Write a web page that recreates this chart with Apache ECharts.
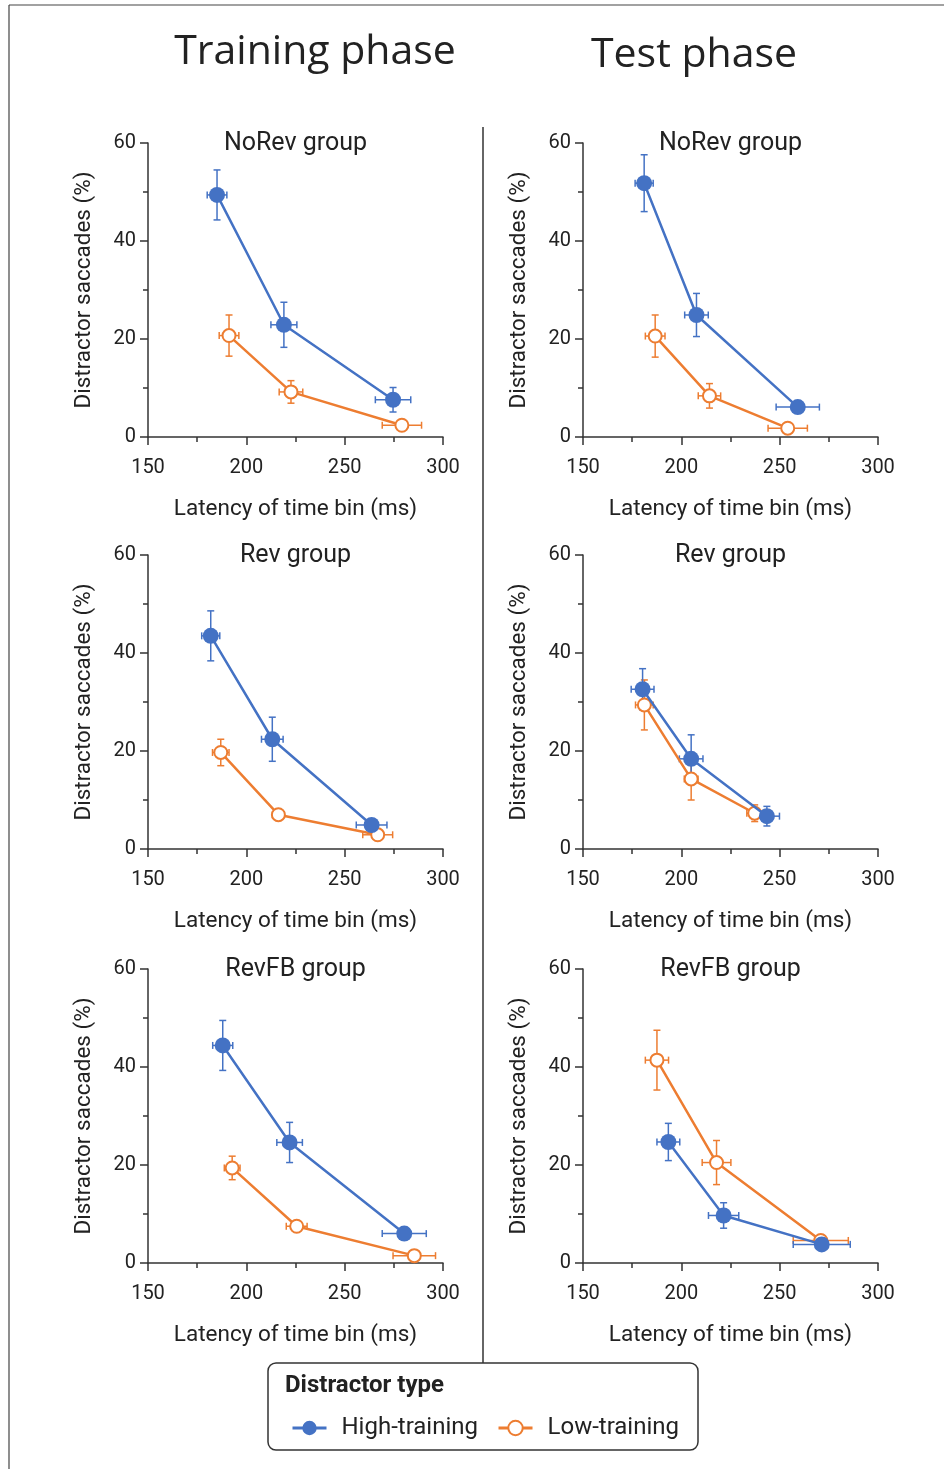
<!DOCTYPE html>
<html>
<head>
<meta charset="utf-8">
<script src="https://cdn.jsdelivr.net/npm/echarts@6/dist/echarts.min.js"></script>
<style>
  html, body { margin: 0; padding: 0; background: #fff; }
  #chart { width: 944px; height: 1469px; }
</style>
</head>
<body>
<div id="chart"></div>
<script>
// each point: [latency ms, distractor saccades %, latency error, saccade error]
const trainNoRevHigh = [[185.1, 49.4, 5, 5.1], [219.1, 22.9, 6.6, 4.6], [274.6, 7.6, 9, 2.5]];
const trainNoRevLow  = [[191.2, 20.7, 5, 4.2], [222.7, 9.2, 6, 2.3], [279.1, 2.4, 10, 0.5]];
const testNoRevHigh  = [[181.1, 51.8, 4.6, 5.8], [207.7, 24.9, 6, 4.4], [259.2, 6.1, 11, 1.0]];
const testNoRevLow   = [[186.7, 20.6, 5, 4.3], [214.3, 8.4, 5.7, 2.5], [254.1, 1.8, 10, 0.5]];
const trainRevHigh   = [[181.9, 43.5, 4.6, 5.1], [213.2, 22.4, 5.5, 4.5], [263.7, 4.9, 7.8, 1.0]];
const trainRevLow    = [[187.0, 19.7, 4.2, 2.7], [216.3, 7.0, 3, 1.0], [266.8, 2.9, 7.6, 0.6]];
const testRevHigh    = [[180.3, 32.6, 5.8, 4.2], [205.0, 18.4, 6, 4.9], [243.5, 6.7, 6.4, 2.0]];
const testRevLow     = [[181.2, 29.4, 4.5, 5.1], [205.0, 14.3, 3.5, 4.3], [237.3, 7.3, 4, 1.7]];
const trainFBHigh    = [[188.0, 44.4, 5.1, 5.1], [222.0, 24.6, 6.5, 4.1], [280.3, 6.0, 11.2, 1.2]];
const trainFBLow     = [[192.8, 19.4, 4, 2.4], [225.6, 7.5, 5.3, 0.7], [285.4, 1.5, 10.8, 0.5]];
const testFBHigh     = [[193.4, 24.7, 5.8, 3.8], [221.5, 9.7, 7.7, 2.6], [271.4, 3.8, 14.5, 0.5]];
const testFBLow      = [[187.6, 41.4, 5.9, 6.1], [217.9, 20.5, 7.3, 4.5], [270.9, 4.6, 14, 1.0]];

const groupNames = ['NoRev group', 'Rev group', 'RevFB group'];
const phaseNames = ['Training phase', 'Test phase'];
const typeNames = ['High-training', 'Low-training'];
const xTicks = [150, 300, 50];   // min, max, labelled step
const yTicks = [0, 60, 20];

const hiColor = '#4472C4';
const loColor = '#ED7D31';
const axisColor = '#333';
const font = 'Roboto, "Noto Sans", sans-serif';

const panels = [
  { group: 0, high: trainNoRevHigh, low: trainNoRevLow, left: 148, top: 143 },
  { group: 0, high: testNoRevHigh,  low: testNoRevLow,  left: 583, top: 143 },
  { group: 1, high: trainRevHigh,   low: trainRevLow,   left: 148, top: 555 },
  { group: 1, high: testRevHigh,    low: testRevLow,    left: 583, top: 555 },
  { group: 2, high: trainFBHigh,    low: trainFBLow,    left: 148, top: 969 },
  { group: 2, high: testFBHigh,     low: testFBLow,     left: 583, top: 969 }
];
const gw = 295, gh = 294;

function errorBars(color) {
  return function (params, api) {
    const x = api.value(0), y = api.value(1), ex = api.value(2), ey = api.value(3);
    const t = api.coord([x, y + ey]), b = api.coord([x, y - ey]);
    const l = api.coord([x - ex, y]), r = api.coord([x + ex, y]);
    const cap = 3.5;
    const style = { stroke: color, lineWidth: 1.5 };
    const seg = (x1, y1, x2, y2) => ({ type: 'line', shape: { x1, y1, x2, y2 }, style });
    return {
      type: 'group',
      children: [
        seg(t[0], t[1], b[0], b[1]),
        seg(t[0] - cap, t[1], t[0] + cap, t[1]),
        seg(b[0] - cap, b[1], b[0] + cap, b[1]),
        seg(l[0], l[1], r[0], r[1]),
        seg(l[0], l[1] - cap, l[0], l[1] + cap),
        seg(r[0], r[1] - cap, r[0], r[1] + cap)
      ]
    };
  };
}

function points(d) { return d.map(v => [v[0], v[1]]); }

const grid = [], xAxis = [], yAxis = [], series = [], graphic = [];

panels.forEach((p, i) => {
  grid.push({ left: p.left, top: p.top, width: gw, height: gh });
  xAxis.push({
    type: 'value', gridIndex: i, min: xTicks[0], max: xTicks[1], interval: xTicks[2],
    name: 'Latency of time bin (ms)', nameLocation: 'middle', nameGap: 61,
    nameTextStyle: { fontFamily: font, fontSize: 22.5, color: '#222' },
    axisLine: { show: true, lineStyle: { color: axisColor, width: 1.5 } },
    axisTick: { show: true, length: 8, lineStyle: { color: axisColor, width: 1.5 } },
    minorTick: { show: true, splitNumber: 2, length: 5, lineStyle: { color: axisColor, width: 1.5 } },
    axisLabel: { fontFamily: font, fontSize: 20, color: '#222', margin: 21 },
    splitLine: { show: false }
  });
  yAxis.push({
    type: 'value', gridIndex: i, min: yTicks[0], max: yTicks[1], interval: yTicks[2],
    name: 'Distractor saccades (%)', nameLocation: 'middle', nameGap: 52,
    nameTextStyle: { fontFamily: font, fontSize: 22.5, color: '#222' },
    axisLine: { show: true, lineStyle: { color: axisColor, width: 1.5 } },
    axisTick: { show: true, length: 8, lineStyle: { color: axisColor, width: 1.5 } },
    minorTick: { show: true, splitNumber: 2, length: 5, lineStyle: { color: axisColor, width: 1.5 } },
    axisLabel: { fontFamily: font, fontSize: 20, color: '#222', margin: 12 },
    splitLine: { show: false }
  });

  [[p.low, loColor], [p.high, hiColor]].forEach(([d, color]) => {
    series.push({
      type: 'custom', xAxisIndex: i, yAxisIndex: i, z: 2,
      renderItem: errorBars(color), encode: { x: 0, y: 1 }, data: d, silent: true
    });
  });
  series.push({
    type: 'line', name: typeNames[1], xAxisIndex: i, yAxisIndex: i, z: 3,
    data: points(p.low), symbol: 'emptyCircle', symbolSize: 13,
    itemStyle: { color: loColor, borderWidth: 2.5 },
    lineStyle: { color: loColor, width: 2.5 }
  });
  series.push({
    type: 'line', name: typeNames[0], xAxisIndex: i, yAxisIndex: i, z: 4,
    data: points(p.high), symbol: 'circle', symbolSize: 16,
    itemStyle: { color: hiColor },
    lineStyle: { color: hiColor, width: 2.5 }
  });

  graphic.push({
    type: 'text', x: p.left + gw / 2, y: p.top + 1,
    style: { text: groupNames[p.group], font: '25px ' + font, fill: '#222', textAlign: 'center', textVerticalAlign: 'middle' }
  });
});

// phase headings, frame, divider, legend box
graphic.push(
  { type: 'text', x: 315, y: 52, style: { text: phaseNames[0], font: '41px "Open Sans", sans-serif', fill: '#222', textAlign: 'center', textVerticalAlign: 'middle' } },
  { type: 'text', x: 694, y: 55, style: { text: phaseNames[1], font: '41px "Open Sans", sans-serif', fill: '#222', textAlign: 'center', textVerticalAlign: 'middle' } },
  { type: 'line', shape: { x1: 9, y1: 5, x2: 944, y2: 5 }, style: { stroke: '#444', lineWidth: 1.2 } },
  { type: 'line', shape: { x1: 9, y1: 5, x2: 9, y2: 1469 }, style: { stroke: '#444', lineWidth: 1.2 } },
  { type: 'line', shape: { x1: 483, y1: 127, x2: 483, y2: 1363 }, style: { stroke: '#333', lineWidth: 1.5 } },
  { type: 'rect', shape: { x: 268, y: 1363, width: 430, height: 87, r: 8 }, style: { fill: '#fff', stroke: '#333', lineWidth: 1.5 }, z: 0 },
  { type: 'text', x: 285, y: 1386, style: { text: 'Distractor type', font: 'bold 24px ' + font, fill: '#222', textVerticalAlign: 'middle' } }
);

const chart = echarts.init(document.getElementById('chart'));
chart.setOption({
  animation: false,
  grid, xAxis, yAxis, series, graphic,
  legend: {
    data: typeNames, left: 286, top: 1411, itemWidth: 34, itemHeight: 18, itemGap: 19,
    lineStyle: { width: 3 },
    textStyle: { fontFamily: font, fontSize: 24, color: '#222', padding: [0, 0, 0, 10] },
    selectedMode: false
  }
});
</script>
</body>
</html>
